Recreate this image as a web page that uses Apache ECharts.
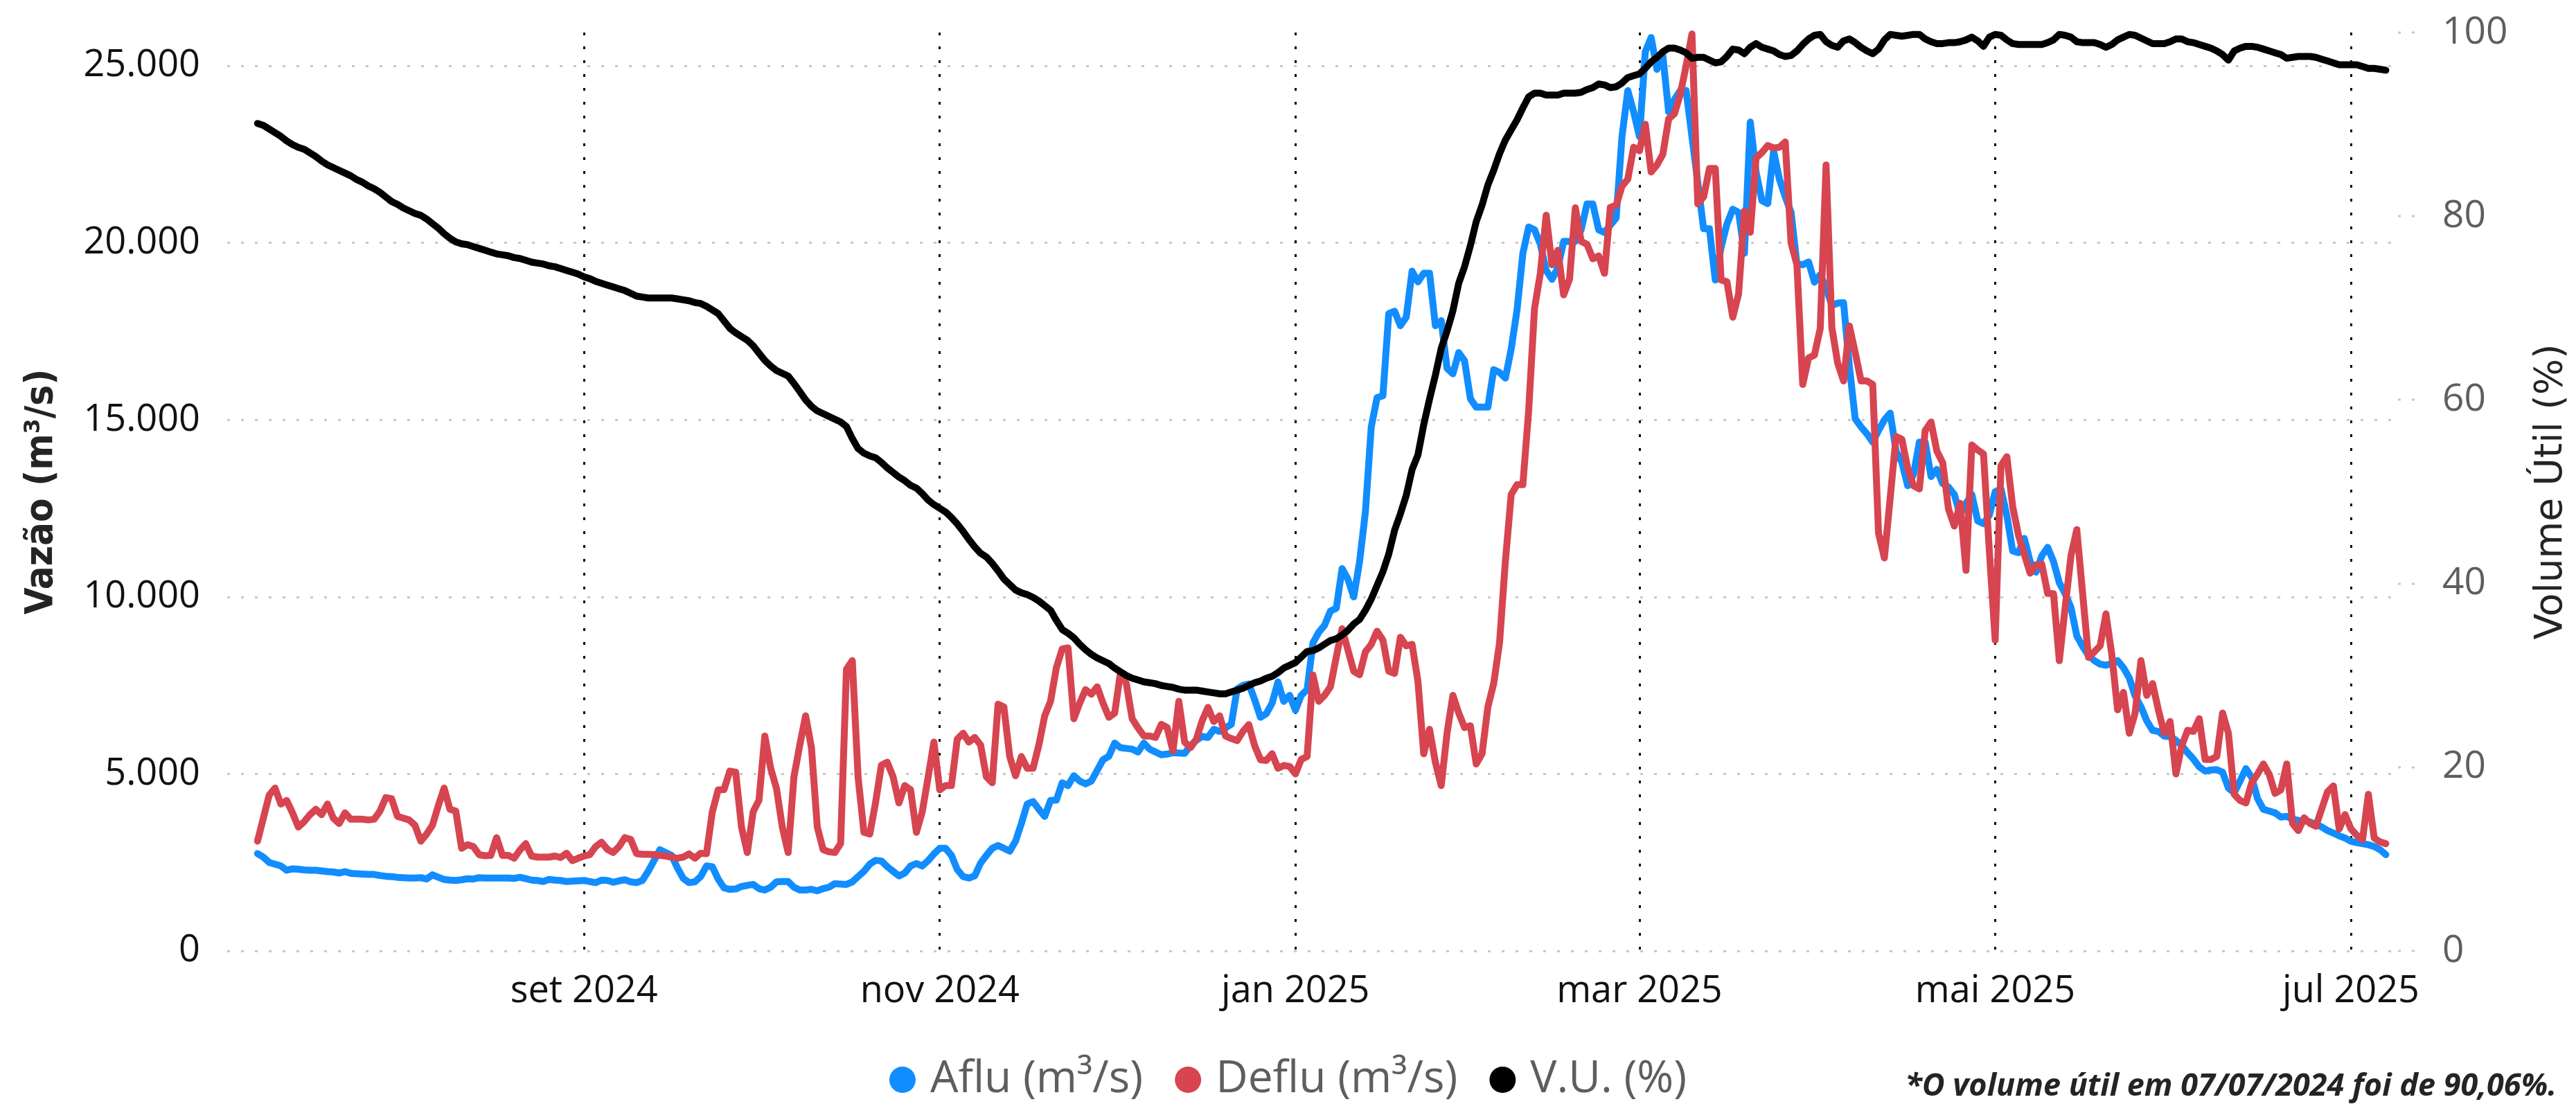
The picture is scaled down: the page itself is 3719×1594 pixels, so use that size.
<!DOCTYPE html>
<html>
<head>
<meta charset="utf-8">
<script src="https://cdn.jsdelivr.net/npm/echarts@6/dist/echarts.min.js"></script>
<style>
html,body{margin:0;padding:0;background:#fff;}
#main{width:3719px;height:1594px;}
</style>
</head>
<body>
<div id="main"></div>
<script>
// ---- data (daily, from 07/07/2024) ----
const startDay = [2024, 7, 7];

const aflu = [
2750,2650,2500,2450,2400,2280,2320,2310,2290,2280,
2280,2260,2240,2230,2200,2240,2190,2180,2170,2160,
2160,2130,2110,2100,2080,2070,2060,2060,2070,2030,
2150,2080,2020,2000,1990,2010,2040,2030,2070,2060,
2060,2060,2060,2060,2050,2080,2040,2000,1990,1960,
2020,2000,1990,1960,1970,1980,1990,1960,1930,2000,
1990,1940,1980,2010,1950,1930,1990,2250,2550,2860,
2780,2700,2350,2050,1930,1950,2100,2400,2380,2030,
1780,1740,1750,1820,1850,1880,1760,1720,1800,1950,
1960,1960,1800,1720,1720,1740,1700,1760,1800,1900,
1890,1880,1950,2100,2250,2450,2560,2540,2380,2250,
2120,2200,2400,2470,2400,2550,2740,2900,2900,2700,
2300,2100,2060,2120,2480,2700,2900,2980,2900,2820,
3100,3600,4150,4220,4000,3800,4250,4260,4750,4670,
4950,4800,4720,4800,5100,5400,5500,5870,5740,5720,
5700,5620,5870,5700,5620,5540,5560,5600,5590,5580,
5800,5950,6060,6030,6260,6200,6300,6400,7400,7500,
7540,7100,6600,6700,7000,7600,7050,7220,6800,7220,
7380,8700,9000,9200,9600,9680,10800,10500,10000,11000,
12400,14800,15630,15680,18000,18070,17660,17900,19200,18900,
19140,19140,17660,17800,16460,16300,16900,16670,15600,15360,
15360,15360,16420,16340,16180,17000,18100,19700,20450,20370,
19960,19220,18970,19300,20040,20040,20040,20370,21100,21100,
20370,20290,20500,20700,23000,24300,23700,23000,25400,25800,
24900,25300,23700,24050,24300,24300,23000,21700,20400,20400,
18950,19880,20530,20950,20860,19710,23410,22000,21190,21110,
22590,21800,21300,20860,19400,19380,19460,18890,19100,18730,
18230,18300,18310,16500,15030,14800,14610,14370,14700,15000,
15190,14120,13800,13140,13460,14370,14370,13400,13600,13200,
13100,12890,12310,12640,12890,12150,12070,12310,12970,13050,
12300,11300,11250,11650,11000,10700,11160,11400,11000,10400,
10090,9700,8900,8600,8350,8200,8100,8070,8120,8200,
8000,7710,7200,6900,6500,6230,6200,6070,6050,5950,
5800,5600,5420,5200,5080,5110,5120,5050,4600,4470,
4800,5150,4900,4300,4000,3950,3900,3780,3800,3720,
3690,3680,3640,3580,3500,3400,3330,3250,3190,3100,
3060,3030,3000,2950,2860,2720
];

const deflu = [
3100,3750,4400,4600,4150,4250,3900,3500,3650,3850,
4000,3850,4150,3750,3600,3900,3720,3720,3720,3700,
3720,3950,4330,4300,3800,3750,3700,3550,3100,3300,
3550,4100,4600,4000,3950,2900,3000,2950,2720,2690,
2700,3200,2700,2700,2620,2850,3030,2680,2650,2650,
2650,2680,2640,2760,2550,2620,2680,2720,2950,3070,
2870,2780,2950,3200,3150,2750,2730,2730,2720,2700,
2680,2650,2620,2650,2740,2620,2760,2750,3930,4550,
4560,5080,5050,3500,2780,3930,4260,6070,5160,4590,
3500,2780,4920,5820,6640,5740,3500,2860,2800,2780,
3030,7950,8200,4900,3350,3300,4200,5250,5330,4920,
4180,4670,4550,3350,3930,4900,5900,4550,4670,4670,
5980,6150,5900,6030,5820,4920,4750,6970,6890,5490,
4950,5490,5160,5160,5820,6640,7050,8000,8530,8560,
6560,7000,7380,7250,7460,7000,6600,6720,7870,7550,
6560,6300,6070,6070,6030,6400,6310,5650,7050,5900,
5740,5980,6500,6880,6480,6640,6070,6000,5940,6200,
6390,5800,5400,5380,5570,5160,5240,5210,5000,5410,
5490,7790,7050,7220,7460,8300,9100,8500,7900,7800,
8450,8660,9030,8780,7900,7840,8860,8620,8660,7630,
5570,6260,5330,4670,6150,7220,6720,6310,6360,5280,
5570,6890,7550,8700,11000,12890,13170,13170,15270,18150,
19140,20780,19380,19790,18530,18970,20990,20040,19960,19550,
19630,19140,21000,21060,21600,21800,22700,22600,23350,22000,
22200,22500,23500,23650,24200,25000,25900,21100,21300,22100,
22100,18950,18900,17900,18560,20900,20300,22400,22550,22750,
22680,22700,22850,20000,19380,16000,16750,16830,17580,22200,
17600,16600,16100,17650,16900,16100,16100,16000,11800,11100,
12800,14530,14450,13630,13140,13050,14700,14940,14120,13790,
12480,12000,12640,10750,14290,14150,14040,11300,8780,13710,
13960,12560,11740,11200,10670,10900,10920,10100,10090,8200,
9700,11160,11900,10100,8290,8450,8620,9520,8370,6810,
7300,6150,6720,8200,7220,7550,6800,6150,6480,5000,
5800,6230,6200,6560,5410,5410,5490,6720,6150,4420,
4250,4180,4750,5000,5280,4990,4450,4550,5280,3600,
3400,3760,3600,3520,4010,4500,4660,3440,3850,3450,
3270,3140,4420,3190,3080,3030
];

const vu = [
90.1,89.9,89.5,89.1,88.7,88.2,87.8,87.5,87.3,86.9,
86.5,86.0,85.6,85.3,85.0,84.7,84.4,84.0,83.7,83.3,
83.0,82.6,82.1,81.6,81.3,80.9,80.6,80.3,80.1,79.7,
79.2,78.7,78.1,77.6,77.2,77.0,76.9,76.7,76.5,76.3,
76.1,75.9,75.8,75.7,75.5,75.4,75.2,75.0,74.9,74.8,
74.6,74.5,74.3,74.1,73.9,73.7,73.4,73.2,72.9,72.7,
72.5,72.3,72.1,71.9,71.6,71.3,71.2,71.1,71.1,71.1,
71.1,71.1,71.0,70.9,70.8,70.6,70.5,70.2,69.8,69.4,
68.6,67.8,67.3,66.9,66.5,65.9,65.1,64.3,63.7,63.2,
62.9,62.6,61.8,60.9,60.0,59.3,58.8,58.5,58.2,57.9,
57.6,57.1,55.8,54.7,54.2,53.9,53.7,53.2,52.6,52.1,
51.6,51.2,50.7,50.4,49.8,49.1,48.6,48.2,47.8,47.2,
46.5,45.7,44.8,44.0,43.3,42.9,42.2,41.4,40.5,39.9,
39.3,39.0,38.8,38.5,38.1,37.6,37.1,36.0,35.0,34.6,
34.1,33.4,32.8,32.3,31.9,31.6,31.3,30.8,30.4,30.0,
29.7,29.5,29.3,29.2,29.1,28.9,28.8,28.7,28.5,28.4,
28.4,28.4,28.3,28.2,28.1,28.0,28.0,28.2,28.4,28.6,
28.9,29.2,29.4,29.7,29.9,30.3,30.8,31.1,31.4,32.0,
32.6,32.7,33.0,33.4,33.8,34.0,34.4,34.9,35.6,36.1,
37.1,38.3,39.8,41.3,43.2,45.8,47.6,49.6,52.4,54.0,
57.3,60.1,62.7,65.6,67.5,69.7,72.7,74.5,76.8,79.4,
81.2,83.4,85.0,86.8,88.3,89.4,90.5,91.8,93.0,93.4,
93.4,93.2,93.2,93.2,93.4,93.4,93.4,93.5,93.8,94.0,
94.4,94.3,94.0,94.1,94.5,95.1,95.3,95.5,96.1,96.8,
97.3,97.9,98.3,98.3,98.1,97.8,97.2,97.3,97.3,97.0,
96.7,96.8,97.4,98.2,98.1,97.7,98.4,98.8,98.4,98.2,
98.0,97.6,97.4,97.5,98.0,98.7,99.3,99.7,99.8,99.0,
98.6,98.4,99.1,99.3,98.9,98.4,98.0,97.7,98.2,99.2,
99.8,99.7,99.6,99.7,99.8,99.8,99.3,99.0,98.8,98.8,
98.9,98.9,99.0,99.2,99.5,99.1,98.5,99.5,99.8,99.7,
99.2,98.8,98.7,98.7,98.7,98.7,98.7,98.9,99.2,99.8,
99.7,99.5,99.0,98.9,98.9,98.9,98.7,98.4,98.7,99.2,
99.5,99.8,99.7,99.4,99.1,98.8,98.8,98.8,99.0,99.3,
99.3,99.0,98.9,98.7,98.5,98.3,98.0,97.6,97.0,98.0,
98.3,98.5,98.5,98.4,98.2,98.0,97.8,97.6,97.2,97.3,
97.4,97.4,97.4,97.3,97.1,96.9,96.7,96.5,96.5,96.5,
96.5,96.3,96.1,96.1,96.0,95.9
];

const xTickDates = [[2024,9,1],[2024,11,1],[2025,1,1],[2025,3,1],[2025,5,1],[2025,7,1]];
const xTickLabels = ['set 2024','nov 2024','jan 2025','mar 2025','mai 2025','jul 2025'];
const leftTicks = [0, 5000, 10000, 15000, 20000, 25000];
const rightTicks = [0, 20, 40, 60, 80, 100];
const seriesNames = ['Aflu (m³/s)', 'Deflu (m³/s)', 'V.U. (%)'];
const footnote = '*O volume útil em 07/07/2024 foi de 90,06%.';

// ---- build ----
const DAY = 86400000;
function ts(a){ return Date.UTC(a[0], a[1]-1, a[2]); }
const t0 = ts(startDay);
const dates = aflu.map((_, i) => Date.UTC(startDay[0], startDay[1]-1, startDay[2] + i));
const tickTimes = xTickDates.map(ts);
const xMin = t0 - 5.2*DAY;
const xMax = dates[dates.length-1] + 2.2*DAY;
function fmtThousands(v){ return String(v).replace(/\B(?=(\d{3})+(?!\d))/g, '.'); }

const chart = echarts.init(document.getElementById('main'), null, {renderer:'canvas'});
const tickFont = 'Open Sans';
const titleFont = '"DejaVu Sans Condensed", "DejaVu Sans", sans-serif';
const gridDash = { color: '#c8c8c8', width: 3, type: [4, 16] };
chart.setOption({
  animation: false,
  backgroundColor: '#ffffff',
  grid: { left: 328, right: 249, top: 47, bottom: 221 },
  legend: {
    data: seriesNames,
    left: 'center', top: 1522,
    icon: 'circle', itemWidth: 38, itemHeight: 38, itemGap: 46,
    textStyle: { fontFamily: tickFont, fontSize: 64, color: '#605e5c', padding: [0,0,0,16] }
  },
  xAxis: {
    type: 'value', min: xMin, max: xMax,
    axisLine: { show: false },
    axisTick: { show: false, customValues: tickTimes },
    axisLabel: {
      customValues: tickTimes,
      fontFamily: tickFont, fontSize: 54, color: '#111111', margin: 32,
      formatter: function(v){
        for (let i = 0; i < tickTimes.length; i++) if (Math.abs(tickTimes[i]-v) < 3600000) return xTickLabels[i];
        return '';
      }
    },
    splitLine: { show: true, lineStyle: { color: '#000000', width: 3, type: [4, 16] } }
  },
  yAxis: [
    {
      type: 'value', min: 0, max: 25940, position: 'left',
      axisLine: { show: false },
      axisTick: { show: false, customValues: leftTicks },
      axisLabel: { customValues: leftTicks, formatter: fmtThousands, fontFamily: tickFont, fontSize: 54, color: '#111111', margin: 39 },
      splitLine: { show: true, lineStyle: gridDash },
      name: 'Vazão (m³/s)', nameLocation: 'middle', nameRotate: 90, nameGap: 240,
      nameTextStyle: { fontFamily: titleFont, fontWeight: 'bold', fontSize: 56, color: '#252423' }
    },
    {
      type: 'value', min: 0, max: 100, interval: 20, position: 'right',
      axisLine: { show: false }, axisTick: { show: false },
      axisLabel: { fontFamily: tickFont, fontSize: 55, color: '#605e5c', margin: 63 },
      splitLine: { show: false },
      name: 'Volume Útil (%)', nameLocation: 'middle', nameRotate: 90, nameGap: 193,
      nameTextStyle: { fontFamily: 'DejaVu Sans', fontSize: 55, color: '#252423' }
    }
  ],
  graphic: [{
    id: 'footnote', type: 'text', right: 28, top: 1547,
    style: { text: footnote, fontFamily: tickFont, fontWeight: 'bold', fontStyle: 'italic', fontSize: 45, fill: '#252423' }
  }],
  series: [
    { name: seriesNames[0], type: 'line', yAxisIndex: 0, showSymbol: false, symbol: 'circle', clip: false,
      data: dates.map((t,i) => [t, aflu[i]]),
      itemStyle: { color: '#118DFF' }, lineStyle: { color: '#118DFF', width: 10, cap: 'round', join: 'round' }, z: 2 },
    { name: seriesNames[1], type: 'line', yAxisIndex: 0, showSymbol: false, symbol: 'circle', clip: false,
      data: dates.map((t,i) => [t, deflu[i]]),
      itemStyle: { color: '#D64550' }, lineStyle: { color: '#D64550', width: 10, cap: 'round', join: 'round' }, z: 3 },
    { name: seriesNames[2], type: 'line', yAxisIndex: 1, showSymbol: false, symbol: 'circle', clip: false,
      data: dates.map((t,i) => [t, vu[i]]),
      itemStyle: { color: '#000000' }, lineStyle: { color: '#000000', width: 10, cap: 'round', join: 'round' }, z: 4 }
  ]
});

// short right-axis grid stubs just beyond the plot edge, placed through the right axis scale
const xRight = chart.convertToPixel({ xAxisIndex: 0 }, xMax);
const stubs = rightTicks.map((v, i) => {
  const y = Math.round(chart.convertToPixel({ yAxisIndex: 1 }, v));
  return { id: 'stub' + i, type: 'line', silent: true, z: 1,
    shape: { x1: xRight - 1, y1: y, x2: xRight + 24, y2: y },
    style: { stroke: gridDash.color, lineWidth: gridDash.width, lineDash: gridDash.type } };
});
chart.setOption({ graphic: stubs });
</script>
</body>
</html>
